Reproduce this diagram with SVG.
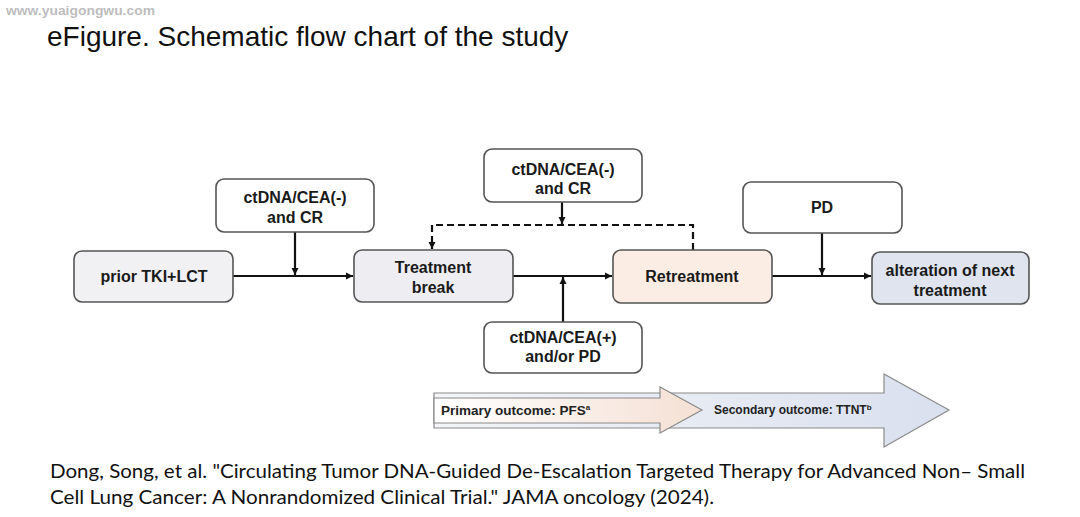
<svg xmlns="http://www.w3.org/2000/svg" width="1080" height="517" viewBox="0 0 1080 517">
<defs>
<style>
.box{stroke:#555555;stroke-width:1.6}
.lbl{font-family:"Liberation Sans",Arial,sans-serif;font-weight:bold;font-size:16px;fill:#1a1a1a;text-anchor:middle}
.ln{stroke:#111;stroke-width:2.2;fill:none}
.dash{stroke:#111;stroke-width:2.2;fill:none;stroke-dasharray:7 4}
.out{font-family:"Liberation Sans",Arial,sans-serif;font-weight:bold;fill:#222}
.cite{font-family:Lato,"Open Sans",sans-serif;font-size:20px;fill:#111}
</style>
<marker id="ah" markerWidth="9" markerHeight="9" refX="7" refY="4" orient="auto" markerUnits="userSpaceOnUse">
<path d="M0,0.5 L7,4 L0,7.5 Z" fill="#111"/>
</marker>
<linearGradient id="gPrim" x1="0" y1="0" x2="1" y2="0">
<stop offset="0" stop-color="#ffffff"/>
<stop offset="1" stop-color="#f5e0d4"/>
</linearGradient>
<linearGradient id="gSec" x1="0" y1="0" x2="1" y2="0">
<stop offset="0" stop-color="#f4f5f8"/>
<stop offset="1" stop-color="#d9e0ee"/>
</linearGradient>
</defs>
<rect width="1080" height="517" fill="#ffffff"/>
<text x="6" y="15" font-family="Liberation Sans,Arial,sans-serif" font-weight="bold" font-size="13" fill="#bdbdbd" textLength="149" lengthAdjust="spacingAndGlyphs">www.yuaigongwu.com</text>
<text x="47" y="46" font-family="Liberation Sans,Arial,sans-serif" font-size="28" fill="#111">eFigure. Schematic flow chart of the study</text>

<g id="connectors">
<line class="ln" x1="233" y1="276" x2="353" y2="276" marker-end="url(#ah)"/>
<line class="ln" x1="295" y1="232" x2="295" y2="275" marker-end="url(#ah)"/>
<line class="ln" x1="513" y1="276" x2="612" y2="276" marker-end="url(#ah)"/>
<line class="ln" x1="563" y1="322" x2="563" y2="277" marker-end="url(#ah)"/>
<line class="ln" x1="562" y1="202" x2="562" y2="224" marker-end="url(#ah)"/>
<path class="dash" d="M693,250 V225 H432 V249" marker-end="url(#ah)"/>
<line class="ln" x1="772" y1="276" x2="871" y2="276" marker-end="url(#ah)"/>
<line class="ln" x1="822" y1="233" x2="822" y2="275" marker-end="url(#ah)"/>
</g>

<g id="prior">
<rect class="box" x="74" y="251" width="159" height="51" rx="8" fill="#f1f1f4"/>
<text class="lbl" x="154" y="282">prior TKI+LCT</text>
</g>
<g id="cond1">
<rect class="box" x="216" y="179" width="158" height="53" rx="8" fill="#ffffff"/>
<text class="lbl" x="295" y="203">ctDNA/CEA(-)</text>
<text class="lbl" x="295" y="223">and CR</text>
</g>
<g id="break">
<rect class="box" x="354" y="250" width="159" height="52" rx="8" fill="#eeeef2"/>
<text class="lbl" x="433" y="273">Treatment</text>
<text class="lbl" x="433" y="293">break</text>
</g>
<g id="cond2">
<rect class="box" x="484" y="149" width="158" height="53" rx="8" fill="#ffffff"/>
<text class="lbl" x="563" y="175">ctDNA/CEA(-)</text>
<text class="lbl" x="563" y="194">and CR</text>
</g>
<g id="cond3">
<rect class="box" x="484" y="322" width="158" height="51" rx="8" fill="#ffffff"/>
<text class="lbl" x="563" y="343">ctDNA/CEA(+)</text>
<text class="lbl" x="563" y="362">and/or PD</text>
</g>
<g id="retreat">
<rect class="box" x="613" y="250" width="159" height="53" rx="8" fill="#fbede4"/>
<text class="lbl" x="692" y="282">Retreatment</text>
</g>
<g id="pd">
<rect class="box" x="743" y="182" width="159" height="51" rx="8" fill="#ffffff"/>
<text class="lbl" x="822" y="213">PD</text>
</g>
<g id="alter">
<rect class="box" x="872" y="252" width="157" height="52" rx="8" fill="#dfe4ef"/>
<text class="lbl" x="950" y="276">alteration of next</text>
<text class="lbl" x="950" y="296">treatment</text>
</g>

<g id="outcomes">
<polygon points="434,393 884,393 884,374 949,410 884,447 884,428 434,428" fill="url(#gSec)" stroke="#8a8a8a" stroke-width="1.2"/>
<polygon points="434,398 660,398 660,387 702,410 660,433 660,423 434,423" fill="url(#gPrim)" stroke="#8a8a8a" stroke-width="1.2"/>
<text class="out" x="441" y="415" font-size="13.5">Primary outcome: PFS<tspan font-size="8" dy="-5">a</tspan></text>
<text class="out" x="714" y="414" font-size="12">Secondary outcome: TTNT<tspan font-size="8" dy="-4">b</tspan></text>
</g>

<text class="cite" x="50" y="478" textLength="975" lengthAdjust="spacingAndGlyphs">Dong, Song, et al. "Circulating Tumor DNA-Guided De-Escalation Targeted Therapy for Advanced Non– Small</text>
<text class="cite" x="50" y="504" textLength="664" lengthAdjust="spacingAndGlyphs">Cell Lung Cancer: A Nonrandomized Clinical Trial." JAMA oncology (2024).</text>
</svg>
